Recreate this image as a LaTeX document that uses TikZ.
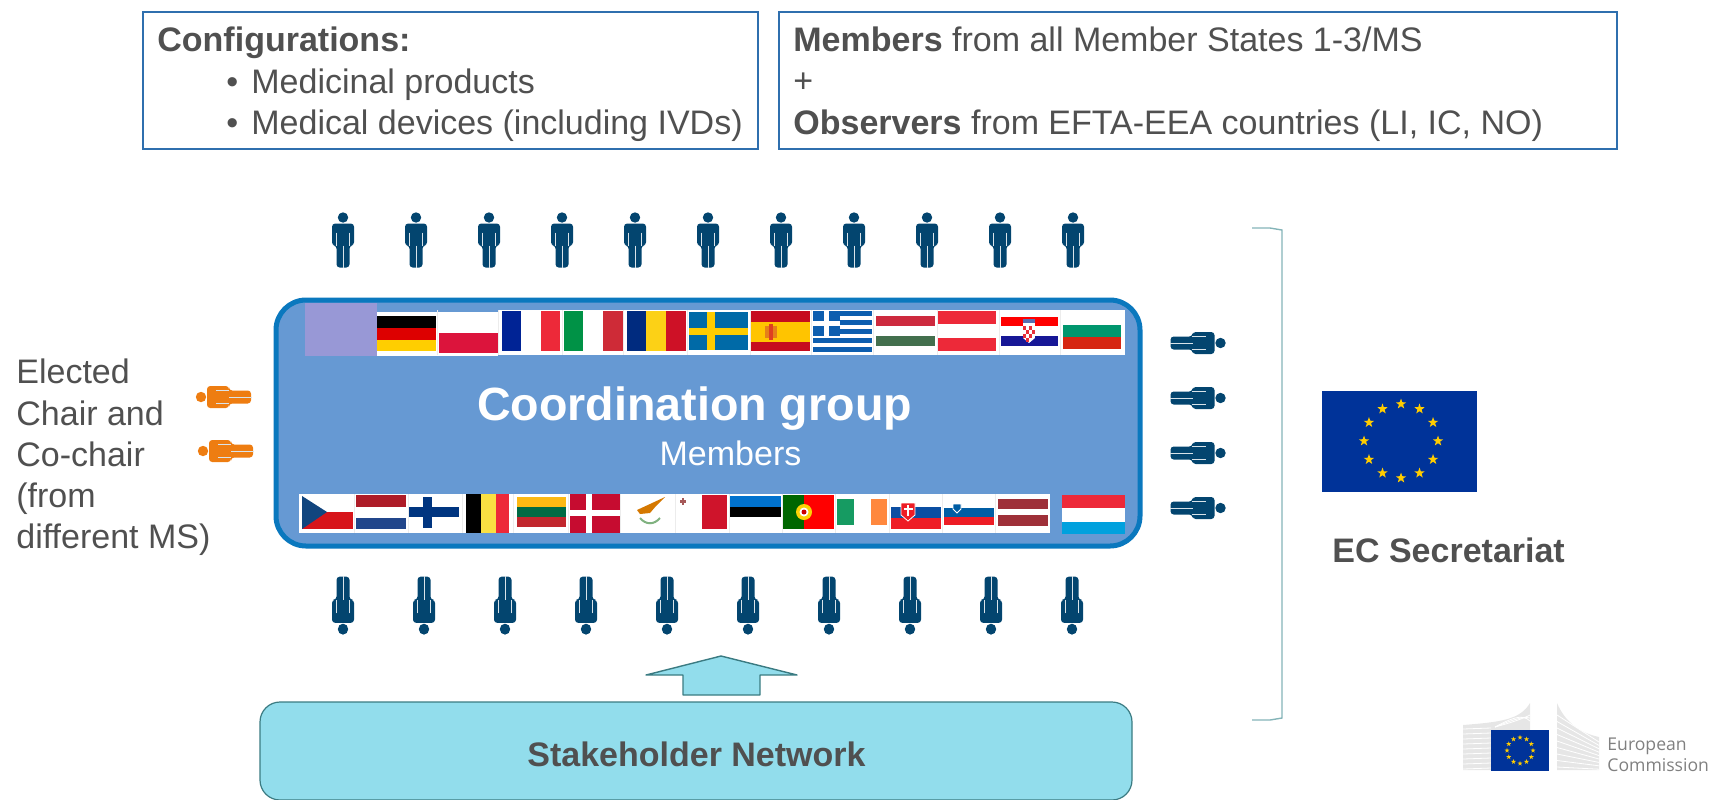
\documentclass[tikz,border=0pt]{standalone}
\usepackage{fontspec}
\setmainfont{Liberation Sans}
\newfontfamily\logofont{Open Sans}
\usetikzlibrary{shapes.geometric}
\definecolor{tx}{HTML}{505050}
\definecolor{boxblue}{HTML}{2F6FAE}
\definecolor{mainfill}{HTML}{6699D3}
\definecolor{mainedge}{HTML}{0A78BE}
\definecolor{pdark}{HTML}{03456F}
\definecolor{porange}{HTML}{EE7D11}
\definecolor{stfill}{HTML}{92DDEC}
\definecolor{stedge}{HTML}{3B7B82}
\definecolor{brk}{HTML}{84B4B8}
\definecolor{eublue}{HTML}{003399}
\definecolor{euyellow}{HTML}{FFCC00}
\definecolor{lil}{HTML}{9898D6}
\definecolor{wing}{HTML}{E6E6E6}
\newcommand\flagrect[5]{\fill[#5] (#1,#2) rectangle (#3,#4);}
\newcommand\hexrect[5]{\definecolor{fc}{HTML}{#5}\fill[fc] (#1,#2) rectangle (#3,#4);}
\newcommand\eustars[5]{\foreach \a in {0,30,...,330}{\node[star,star points=5,star point ratio=2.5,fill=euyellow,inner sep=0pt,minimum size=#5] at ({#1+#2*cos(\a)},{#3+#4*sin(\a)}) {};}}
\tikzset{
  x=0.5pt,y=-0.5pt,
  txt/.style={text=tx,inner sep=0pt,anchor=base west,font=\fontsize{17}{20}\selectfont},
  txtb/.style={txt,font=\fontsize{17}{20}\selectfont\bfseries},
  topbox/.style={draw=boxblue,line width=0.55pt,fill=white,inner sep=0pt,minimum height=68.5pt},
  pics/person/.style={code={
    \fill[#1] (0,-23) circle (5.2);
    \fill[#1,rounded corners=1.6pt] (-11,5) -- (-11,-17) -- (11,-17) -- (11,5) -- (6.5,5) -- (6.5,27) -- (-6.5,27) -- (-6.5,5) -- cycle;
    \draw[white!85!pdark,line width=0.45pt] (-6.2,-8) -- (-6.2,5.2) (6.2,-8) -- (6.2,5.2) (0,5) -- (0,27.5);
  }}
}
\begin{document}
\begin{tikzpicture}
\useasboundingbox (0,0) rectangle (1713,799);
% top boxes
\node[topbox,minimum width=307.5pt] (cfgbox) at (450.5,80.5) {};
\node[topbox,minimum width=419pt] (membox) at (1198,80.5) {};
\node[txtb] (cfg) at (157,51) {Configurations:};
\node[txt] (b1) at (226,93) {•};
\node[txt] (cfg1) at (251,93) {Medicinal products};
\node[txt] (b2) at (226,134) {•};
\node[txt] (cfg2) at (251,134) {Medical devices (including IVDs)};
\node[txt] (mem1) at (793,51) {\textbf{Members} from all Member States 1-3/MS};
\node[txt] (mem2) at (793,92) {+};
\node[txt] (mem3) at (793,134) {\textbf{Observers} from EFTA-EEA countries (LI, IC, NO)};
% top people
\foreach \i in {0,...,10} {\pic at ({343+73*\i},240.5) {person=pdark};}
% main box
\node[draw=mainedge,fill=mainfill,line width=2.5pt,rounded corners=15pt,minimum width=432pt,minimum height=123pt,inner sep=0pt] (main) at (708,423) {};
% top flags
\flagrect{305}{303}{377}{356}{lil}
\flagrect{377}{312}{498}{356}{white}
\flagrect{498}{310}{1125}{355}{white}
\foreach \c in {437,498,562,623,687,750,811,873,937,999,1060} {\draw[gray!15,line width=0.4pt] (\c,310) -- (\c,355);}
\flagrect{377}{316}{436}{328}{black}
\hexrect{377}{328}{436}{340}{DD0000}
\hexrect{377}{340}{436}{351}{FFCE00}
\hexrect{439}{333}{498}{353}{DC143C}
\hexrect{502}{311}{521}{351}{002395}
\hexrect{541}{311}{560}{351}{ED2939}
\hexrect{564}{311}{583}{351}{009246}
\hexrect{603}{311}{623}{351}{CE2B37}
\hexrect{627}{311}{646}{351}{002B7F}
\hexrect{646}{311}{666}{351}{FCD116}
\hexrect{666}{311}{685.5}{351}{CE1126}
\hexrect{689}{312}{748}{350}{006AA7}
\hexrect{707}{312}{715}{350}{FECC00}
\hexrect{689}{328}{748}{335}{FECC00}
\hexrect{751}{311}{810}{351}{C60B1E}
\hexrect{751}{322}{810}{342}{FFC400}
\fill[orange!60!brown] (765,326) rectangle (777,338);
\fill[red!50!brown] (769,324) rectangle (773,340);
\foreach \k in {0,2,4,6,8} {\hexrect{813}{311+\k*4.55}{872}{311+\k*4.55+4.55}{0D5EAF}}
\hexrect{813}{311}{840}{336}{0D5EAF}
\flagrect{813}{321}{840}{326}{white}
\flagrect{824}{311}{829}{336}{white}
\hexrect{876}{316}{934.5}{326}{CD2A3E}
\hexrect{876}{336}{934.5}{346}{436F4D}
\hexrect{938}{311}{996}{324}{ED2939}
\hexrect{938}{338}{996}{351}{ED2939}
\hexrect{1001}{317}{1058}{326}{FF0000}
\hexrect{1001}{336}{1058}{346}{171796}
\flagrect{1023}{323}{1035}{338}{white}
\fill[white] (1023,338) -- (1029,343) -- (1035,338) -- cycle;
\foreach \m/\n in {1023/326,1029/326,1026/330,1032/330,1023/334,1029/334,1026/338} {\hexrect{\m}{\n}{\m+3}{\n+4}{E8303A}}
\hexrect{1023}{319}{1035}{323}{5A6FB0}
\hexrect{1063}{325}{1121}{337}{00966E}
\hexrect{1063}{337}{1121}{349}{D62612}
% bottom flags
\flagrect{299}{494}{1050}{533}{white}
\foreach \c in {354,408,462,513,568,620,675,729,782,835,889,942,995} {\draw[gray!15,line width=0.4pt] (\c,494) -- (\c,533);}
\hexrect{302}{512}{353}{529}{D7141A}
\definecolor{czb}{HTML}{11457E}
\fill[czb] (302,496) -- (327,512) -- (302,529) -- cycle;
\hexrect{356}{495}{406}{507}{AE1C28}
\hexrect{356}{518}{406}{529}{21468B}
\hexrect{409}{507}{459}{517}{003580}
\hexrect{423}{497}{432}{528}{003580}
\flagrect{466}{494}{481}{533}{black}
\hexrect{481}{494}{496}{533}{FAE042}
\hexrect{496}{494}{509}{533}{ED2939}
\hexrect{517}{497}{566}{507}{FDB913}
\hexrect{517}{507}{566}{517}{006A44}
\hexrect{517}{517}{566}{527}{C1272D}
\hexrect{570}{494}{620}{533}{C60C30}
\flagrect{586}{494}{592}{533}{white}
\flagrect{570}{510}{620}{516}{white}
\definecolor{cyo}{HTML}{D57800}
\fill[cyo] (637,510) -- (650,504) -- (665,497) -- (656,506) -- (650,513) -- (640,514) -- cycle;
\draw[green!40!black!50!white,line width=1pt] (640,518) .. controls (646,525) and (654,525) .. (660,518);
\hexrect{702}{495}{727}{529}{CF142B}
\fill[gray!70!red] (680,500) rectangle (686,502.5);
\fill[gray!70!red] (681.8,498) rectangle (684.2,504.5);
\hexrect{730}{496}{781}{507}{0072CE}
\flagrect{730}{507}{781}{517}{black}
\hexrect{783}{495}{804}{529}{006600}
\hexrect{804}{495}{834}{529}{FF0000}
\fill[yellow!70!orange] (804,512) circle (8);
\fill[white] (804,512) circle (4.5);
\fill[red!80!black] (804,512) circle (2.5);
\hexrect{837}{499}{854}{525}{169B62}
\hexrect{871}{499}{887}{525}{FF883E}
\hexrect{891}{507}{941}{518}{0B4EA2}
\hexrect{891}{518}{941}{529}{EE1C25}
\definecolor{skr}{HTML}{EE1C25}
\fill[skr,draw=white] (901,503) -- (915,503) -- (915,515) -- (908,521) -- (901,515) -- cycle;
\flagrect{906.7}{505}{909.3}{516}{white}
\flagrect{903.5}{508}{912.5}{510}{white}
\hexrect{944}{508}{994}{516.7}{005DA4}
\hexrect{944}{516.7}{994}{525}{ED1C24}
\definecolor{slb}{HTML}{005DA4}
\fill[slb,draw=white] (953,504) -- (961,504) -- (961,509) -- (957,513) -- (953,509) -- cycle;
\hexrect{998}{499}{1048}{509}{9E3039}
\hexrect{998}{515}{1048}{526}{9E3039}
\hexrect{1062}{495}{1125}{508}{ED2939}
\flagrect{1062}{508}{1125}{522}{white}
\hexrect{1062}{522}{1125}{534}{00A1DE}
% main text
\node[text=white,inner sep=0pt,anchor=base,font=\fontsize{23.3}{26}\selectfont\bfseries] (title) at (694.5,420) {Coordination group};
\node[text=white,inner sep=0pt,anchor=base,font=\fontsize{17}{20}\selectfont] (sub) at (730.5,465) {Members};
% side people
\foreach \y in {343,398,453,508} {\pic[rotate=-90] at (1197.5,\y) {person=pdark};}
\pic[rotate=90] at (224,397) {person=porange};
\pic[rotate=90] at (226,451) {person=porange};
\node[txt] (el1) at (16,383) {Elected};
\node[txt] (el2) at (16,425) {Chair and};
\node[txt] (el3) at (16,466) {Co-chair};
\node[txt] (el4) at (16,507) {(from};
\node[txt] (el5) at (16,548) {different MS)};
% bottom people
\foreach \i in {0,...,9} {\pic[rotate=180,yscale=1.05] at ({343+81*\i},605) {person=pdark};}
% arrow and stakeholder
\node[draw=stedge,fill=stfill,line width=0.6pt,rounded corners=10pt,minimum width=436pt,minimum height=49pt,inner sep=0pt] (stake) at (696,751) {};
\node[txtb,anchor=base] (staketxt) at (696.5,766) {Stakeholder Network};
\fill[stfill,draw=stedge,line width=0.7pt,line join=round] (721,656) -- (797,675) -- (760,675) -- (760,695) -- (683,695) -- (683,675) -- (646,675) -- cycle;
% bracket
\draw[brk,line width=0.7pt] (1252,228) -- (1270,228) -- (1282,230) -- (1282,718) -- (1270,720) -- (1252,720);
% EU flag
\node[fill=eublue,minimum width=77.5pt,minimum height=50.5pt,inner sep=0pt] (eu) at (1399.5,441.5) {};
\eustars{1401}{37}{441}{37}{5.5pt}
\node[txtb,anchor=base west] (sec) at (1332,562) {EC Secretariat};
% logo
\fill[wing] (1463,725) .. controls (1500,722) and (1520,720) .. (1530,703) -- (1530,770) -- (1463,770) -- cycle;
\foreach \k in {0,...,8} {\draw[white,line width=0.4pt] (1463,{729+\k*5}) -- (1491,{728+\k*5});}
\foreach \k in {1,2,3} {\draw[white,line width=0.4pt] (1495,{727}) .. controls (1510,{725-\k*2}) and (1522,{722-\k*3}) .. (1530,{712+\k*3});}
\fill[wing] (1557,703) .. controls (1565,722) and (1580,733) .. (1599,737) -- (1599,770) -- (1557,770) -- cycle;
\foreach \k in {0,...,8} {\draw[white,line width=0.4pt] (1557,{715+\k*6.5}) -- (1599,{742+\k*3.4});}
\node[fill=eublue,minimum width=29pt,minimum height=20.5pt,inner sep=0pt] (logoflag) at (1520,750.5) {};
\eustars{1520}{13}{750.5}{13}{2.6pt}
\node[inner sep=0pt,anchor=base west,text=gray,font=\logofont\fontsize{8.8}{11}\selectfont] (eclogo1) at (1607,750) {European};
\node[inner sep=0pt,anchor=base west,text=gray,font=\logofont\fontsize{8.8}{11}\selectfont] (eclogo2) at (1607,771) {Commission};
\end{tikzpicture}
\end{document}
